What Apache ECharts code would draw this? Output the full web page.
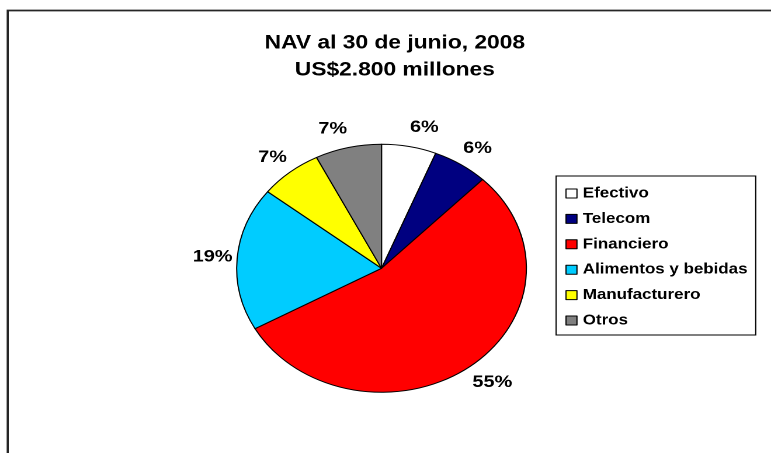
<!DOCTYPE html>
<html><head><meta charset="utf-8">
<script src="https://cdn.jsdelivr.net/npm/echarts@6/dist/echarts.min.js"></script>
<style>
html,body{margin:0;padding:0;background:#fff;overflow:hidden;}
#wrap{width:771px;height:453px;overflow:hidden;position:relative;background:#fff;}
#c{width:660px;height:453px;transform:scaleX(1.16818);transform-origin:0 0;}
</style></head><body>
<div id="wrap"><div id="c"></div></div>
<script>
const titleLines = ['NAV al 30 de junio, 2008', 'US$2.800 millones'];
const categories = ['Efectivo', 'Telecom', 'Financiero', 'Alimentos y bebidas', 'Manufacturero', 'Otros'];
const values = [6.1, 6.2, 54.6, 18.7, 7.0, 7.4];
const colors = ['#FFFFFF', '#000080', '#FF0000', '#00CCFF', '#FFFF00', '#808080'];

const FONT = "'Liberation Sans', Arial, sans-serif";
const CX = 326.6, CY = 268.3, R = 124;
const total = values.reduce((a, b) => a + b, 0);
const cum = [];
values.reduce((acc, v, i) => { cum[i] = acc; return acc + v; }, 0);

const chart = echarts.init(document.getElementById('c'), null, { renderer: 'canvas', devicePixelRatio: 2 });
chart.setOption({
  animation: false,
  backgroundColor: '#fff',
  graphic: [
    { type: 'rect', shape: { x: 6.6, y: 10.5, width: 900, height: 700 },
      style: { fill: 'none', stroke: '#262626', lineWidth: 1.8 }, silent: true },
    { type: 'text', x: 338, y: 29.5,
      style: { text: titleLines.join('\n'), font: 'bold 19.5px ' + FONT, fill: '#000',
               align: 'center', verticalAlign: 'top', lineHeight: 27 } }
  ],
  legend: {
    orient: 'vertical', left: 476, top: 176,
    padding: [10, 7, 7, 8], itemGap: 10.4,
    itemWidth: 9.4, itemHeight: 9, icon: 'rect',
    borderColor: '#000', borderWidth: 1,
    itemStyle: { borderColor: '#000', borderWidth: 1 },
    textStyle: { fontFamily: FONT, fontWeight: 'bold', fontSize: 14.5, color: '#000', lineHeight: 14, padding: [0, 0, 0, 0] },
    data: categories
  },
  series: [{
    type: 'pie',
    center: [CX, CY], radius: R,
    startAngle: 90, clockwise: true,
    avoidLabelOverlap: false,
    data: categories.map((n, i) => ({ name: n, value: values[i], itemStyle: { color: colors[i] } })),
    itemStyle: { borderColor: '#000', borderWidth: 1 },
    emphasis: { disabled: true },
    label: {
      show: true, position: 'outside',
      formatter: p => Math.round(p.percent) + '%',
      fontFamily: FONT, fontWeight: 'bold', fontSize: 17, color: '#000'
    },
    labelLine: { show: false, length: 8, length2: 0 },
    labelLayout: function (p) {
      const i = p.dataIndex;
      const a = (cum[i] + values[i] / 2) / total * 2 * Math.PI;
      const s = Math.sin(a), c = Math.cos(a);
      const h = p.labelRect.height;
      return {
        x: CX + (R + 4) * s,
        y: CY - (R + 11) * c - (h / 2) * c,
        align: s >= 0 ? 'left' : 'right',
        verticalAlign: 'middle'
      };
    }
  }]
});
</script>
</body></html>
